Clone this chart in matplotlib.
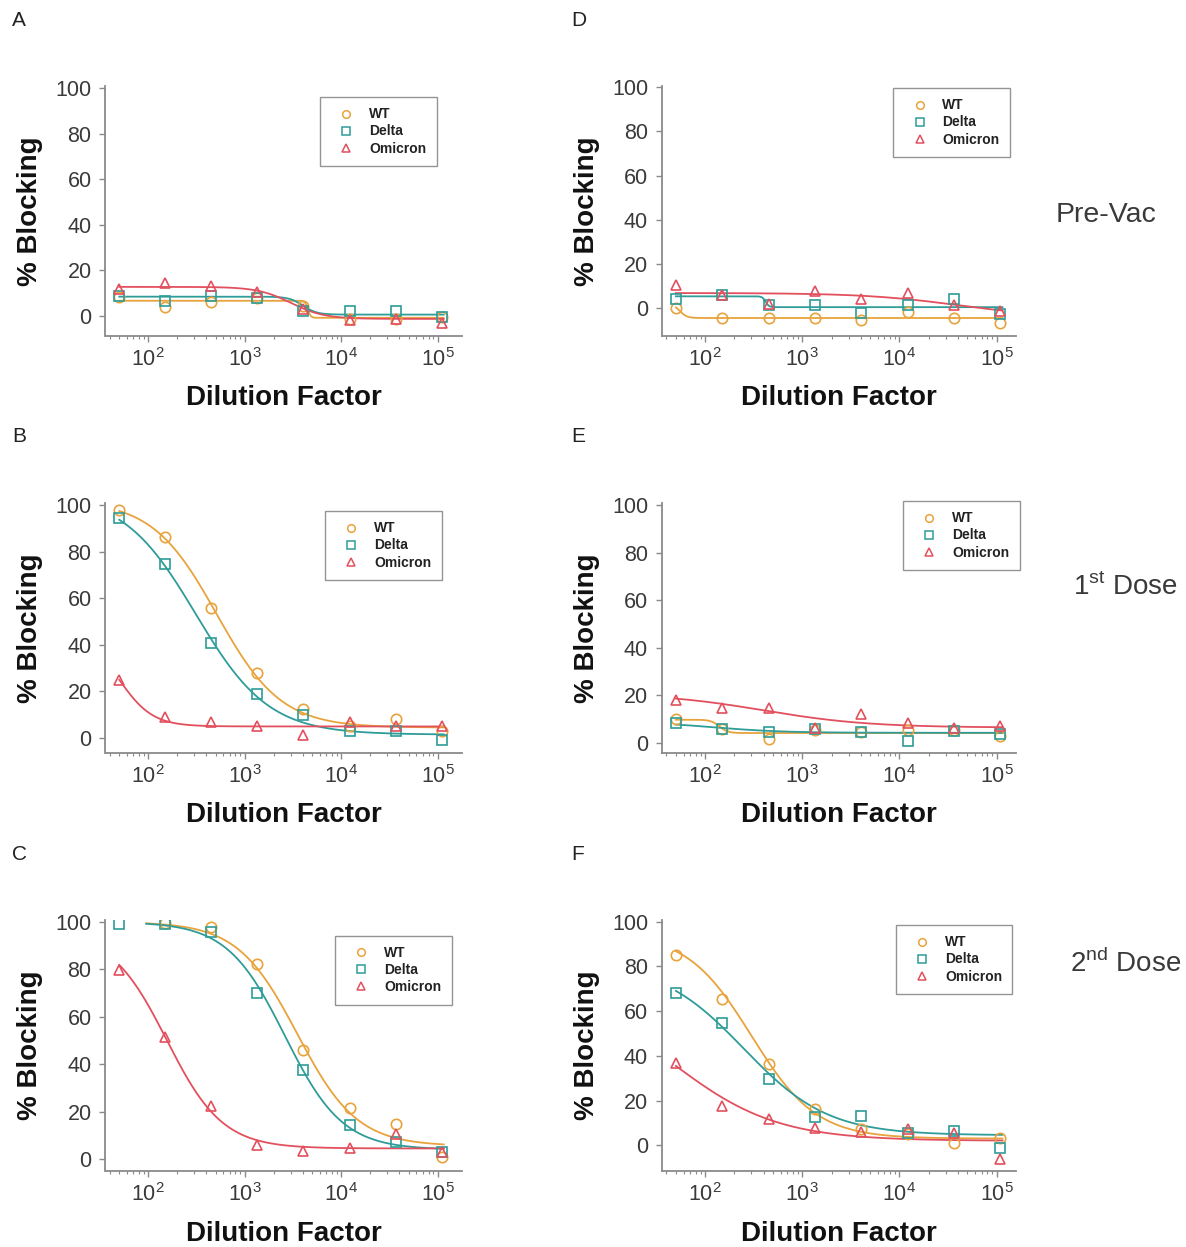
import numpy as np
import matplotlib
matplotlib.use("Agg")
import matplotlib.pyplot as plt
from matplotlib.lines import Line2D
from matplotlib.ticker import LogLocator, NullFormatter

plt.rcParams['font.family'] = ['Liberation Sans', 'DejaVu Sans']
plt.rcParams['mathtext.fontset'] = 'custom'
plt.rcParams['mathtext.rm'] = 'Liberation Sans'

# ---------------- data ----------------
dilution = [50, 150, 450, 1350, 4050, 12150, 36450, 109350]
variants = ['WT', 'Delta', 'Omicron']

A_wt = [8.0, 3.7, 5.9, 7.5, 4.0, -1.4, -1.4, -0.7]
A_delta = [8.8, 6.6, 8.8, 7.5, 2.2, 1.8, 1.8, -0.7]
A_omicron = [11.8, 14.4, 12.8, 10.3, 3.0, -1.8, -1.4, -3.4]

B_wt = [98.1, 86.4, 55.7, 28.1, 12.4, 5.0, 8.1, 2.9]
B_delta = [94.3, 74.7, 41.0, 19.0, 10.0, 3.1, 2.9, -1.0]
B_omicron = [25.0, 9.0, 7.1, 5.3, 1.4, 6.7, 5.3, 5.3]

C_wt = [np.nan, 99.6, 97.9, 82.2, 45.9, 21.7, 14.7, 1.1]
C_delta = [99.3, 99.0, 95.8, 70.2, 37.5, 14.3, 7.3, 2.8]
C_omicron = [79.7, 51.5, 22.4, 5.9, 3.5, 4.5, 10.5, 3.1]

D_wt = [0.0, -4.5, -4.5, -4.5, -5.0, -1.7, -4.5, -6.4]
D_delta = [4.5, 6.3, 1.5, 1.5, -2.0, 1.8, 4.5, -2.7]
D_omicron = [10.5, 6.3, 2.0, 7.8, 4.4, 7.1, 1.8, -1.2]

E_wt = [9.9, 5.7, 1.7, 5.6, 4.8, 5.6, 5.5, 2.8]
E_delta = [8.3, 5.7, 4.8, 5.7, 4.8, 0.8, 5.0, 4.0]
E_omicron = [18.0, 14.6, 14.6, 6.2, 12.2, 8.3, 6.5, 7.0]

F_wt = [85.0, 65.6, 36.4, 16.2, 7.2, 5.0, 1.2, 3.4]
F_delta = [68.1, 54.6, 29.6, 12.7, 13.2, 5.5, 6.5, -1.3]
F_omicron = [36.7, 17.7, 11.7, 7.9, 6.0, 7.2, 5.5, -6.0]

# fitted 4PL parameters: (top, bottom, EC50, hill, curve start)
A_fit = [(6.5, -1.0, 4500, 30, 50), (8.3, 0.4, 4000, 6, 50), (12.6, -1.5, 3000, 2.5, 50)]
B_fit = [(102, 4.5, 510, 1.3, 50), (105, 1.5, 310, 1.15, 50), (45, 5.0, 50, 2.5, 50)]
C_fit = [(100, 5.5, 3500, 1.4, 95), (100, 4.0, 2600, 1.45, 95), (96, 4.5, 155, 1.5, 50)]
D_fit = [(2.0, -4.3, 55, 12, 50), (5.5, 0.6, 420, 25, 50), (7.0, -4.0, 40000, 0.9, 50)]
E_fit = [(9.8, 4.2, 140, 10, 50), (9.0, 4.3, 120, 1.2, 50), (21, 6.5, 400, 0.8, 50)]
F_fit = [(95, 3.0, 300, 1.3, 50), (82, 4.5, 250, 1.0, 50), (72, 2.0, 45, 0.8, 50)]

colors = ['#E8A33D', '#2E9C98', '#E2505E']
markers = ['o', 's', '^']

W, H = 1186, 1247
fig = plt.figure(figsize=(W / 100, H / 100), dpi=100)

panels = [
    ('A', (A_wt, A_delta, A_omicron), A_fit, (105.5, 86, 461.5, 335.5), (-8.8, 101), (0.93, 0.956), (1.556, 5.245)),
    ('B', (B_wt, B_delta, B_omicron), B_fit, (105.5, 503, 461.5, 753), (-6.4, 100.9), (0.944, 0.968), (1.556, 5.245)),
    ('C', (C_wt, C_delta, C_omicron), C_fit, (105.5, 920, 461.5, 1171), (-5.0, 100.8), (0.972, 0.937), (1.556, 5.245)),
    ('D', (D_wt, D_delta, D_omicron), D_fit, (662, 86, 1016, 335.5), (-12.2, 100.5), (0.983, 0.992), (1.556, 5.2)),
    ('E', (E_wt, E_delta, E_omicron), E_fit, (662, 503, 1016, 753), (-4.2, 101), (1.01, 1.008), (1.556, 5.2)),
    ('F', (F_wt, F_delta, F_omicron), F_fit, (662, 920, 1016, 1171), (-11.5, 100.8), (0.99, 0.98), (1.556, 5.2)),
]

letter_pos = {'A': (12, 20), 'B': (12, 437), 'C': (12, 855),
              'D': (571, 20), 'E': (571, 437), 'F': (571, 855)}

spine_c = '#8a8a8a'
tick_lab_c = '#3a3a3a'

for name, series, fits, (l, t, r, b), ylim, leg_anchor, xl in panels:
    ax = fig.add_axes([l / W, 1 - b / H, (r - l) / W, (b - t) / H])
    for vals, fit, c, m in zip(series, fits, colors, markers):
        top, bot, ec50, hill, start = fit
        xs = np.logspace(np.log10(start), np.log10(115000), 400)
        ys = bot + (top - bot) / (1 + (xs / ec50) ** hill)
        ax.plot(xs, ys, color=c, lw=1.3, zorder=2)
        ax.plot(dilution, vals, ls='none', marker=m, mfc='none', mec=c,
                ms=7.5, mew=1.2, zorder=3)
    ax.set_xscale('log')
    ax.set_xlim(10 ** xl[0], 10 ** xl[1])
    ax.set_ylim(*ylim)
    ax.set_yticks([0, 20, 40, 60, 80, 100])
    ax.set_xticks([1e2, 1e3, 1e4, 1e5])
    ax.xaxis.set_minor_locator(LogLocator(base=10, subs=np.arange(2, 10)))
    ax.xaxis.set_minor_formatter(NullFormatter())
    for s in ['top', 'right']:
        ax.spines[s].set_visible(False)
    for s in ['left', 'bottom']:
        ax.spines[s].set_color(spine_c)
        ax.spines[s].set_linewidth(1.3)
    ax.tick_params(axis='both', which='major', length=4, width=1, color=spine_c,
                   labelsize=15.5, labelcolor=tick_lab_c)
    ax.tick_params(axis='y', pad=6)
    ax.tick_params(axis='x', pad=5)
    ax.tick_params(axis='x', which='minor', length=2.5, width=0.8, color=spine_c)
    ax.set_ylabel('% Blocking', fontsize=20, fontweight='bold', color='#111111')
    ax.set_xlabel('Dilution Factor', fontsize=20, fontweight='bold', color='#111111')
    ax.yaxis.set_label_coords(-0.212, 0.5)
    ax.yaxis.label.set_va('center')
    ax.xaxis.set_label_coords(0.5, -0.25)
    ax.xaxis.label.set_va('center')

    handles = [Line2D([], [], ls='none', marker=m, mfc='none', mec=c, ms=5.5, mew=1.1)
               for c, m in zip(colors, markers)]
    leg = ax.legend(handles, variants, loc='upper right', bbox_to_anchor=leg_anchor,
                    prop={'family': 'Liberation Sans', 'weight': 'bold', 'size': 10},
                    frameon=True, fancybox=False, handlelength=2.3, handletextpad=0.5,
                    borderpad=0.75, labelspacing=0.22, borderaxespad=0)
    leg.get_frame().set_edgecolor('#7a7a7a')
    leg.get_frame().set_linewidth(1.0)
    for txt in leg.get_texts():
        txt.set_color('#222222')

    lx, ly = letter_pos[name]
    fig.text(lx / W, 1 - ly / H, name, fontsize=15, color='#222222', ha='left', va='center')

side_font = ['Liberation Sans Narrow', 'Liberation Sans', 'DejaVu Sans']
fig.text(1056 / W, 1 - 215 / H, 'Pre-Vac', fontsize=20.5, color='#3a3a3a',
         family=side_font, ha='left', va='center')
fig.text(1073 / W, 1 - 595 / H, r'1$^{\mathdefault{st}}$ Dose', fontsize=20, color='#3a3a3a',
         family=side_font, ha='left', va='baseline')
fig.text(1070 / W, 1 - 972 / H, r'2$^{\mathdefault{nd}}$ Dose', fontsize=20, color='#3a3a3a',
         family=side_font, ha='left', va='baseline')

fig.savefig('out.png', dpi=100, facecolor='white')
